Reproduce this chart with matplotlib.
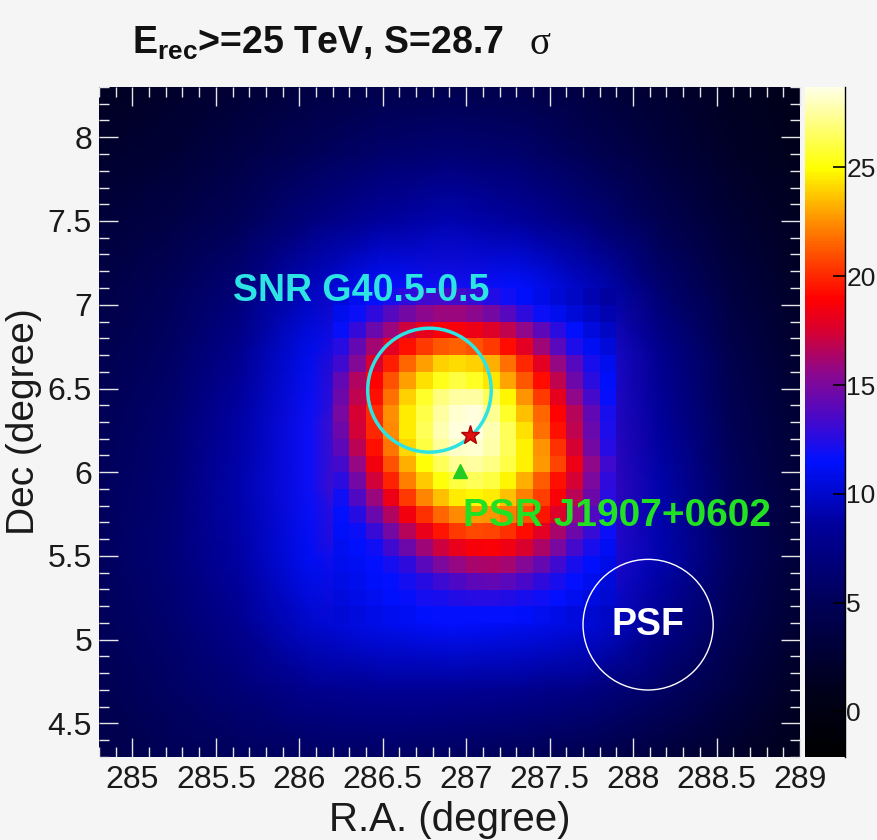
import numpy as np
import matplotlib
matplotlib.use("Agg")
import matplotlib.pyplot as plt
from matplotlib.colors import LinearSegmentedColormap, Normalize
from matplotlib.patches import Circle
from matplotlib.ticker import MultipleLocator, FuncFormatter

plt.rcParams['font.family'] = ['Liberation Sans', 'DejaVu Sans']
plt.rcParams['mathtext.fontset'] = 'custom'
plt.rcParams['mathtext.rm'] = 'Liberation Sans:bold'
plt.rcParams['mathtext.bf'] = 'Liberation Sans:bold'

# map extent (degrees)
ra_min, ra_max = 284.8, 289.0
dec_min, dec_max = 4.3, 8.3
sig_min, sig_max = -2.1, 28.7

# coarse significance map (rows: Dec 8.3 -> 4.3, cols: R.A. 284.8 -> 289.0)
bg_sig = [
    [1.5, 2.0, 2.8, 3.6, 4.2, 4.5, 4.2, 3.4, 2.4, 1.4, 0.8],
    [2.2, 2.8, 3.8, 5.0, 6.0, 6.5, 6.0, 4.7, 3.2, 1.9, 1.0],
    [3.0, 3.8, 5.0, 7.0, 8.5, 9.2, 8.6, 6.8, 4.6, 2.7, 1.4],
    [3.8, 4.9, 6.6, 9.5, 11.5, 12.0, 11.5, 9.5, 6.3, 3.5, 1.8],
    [4.4, 5.6, 8.0, 11.0, 14.0, 17.0, 15.0, 12.5, 8.0, 4.3, 2.2],
    [4.8, 6.1, 8.8, 11.8, 16.0, 24.0, 18.0, 13.0, 8.5, 4.8, 2.6],
    [5.2, 6.4, 9.0, 11.8, 16.0, 24.0, 19.0, 13.5, 9.0, 5.3, 2.9],
    [5.3, 6.6, 8.8, 11.2, 13.0, 15.0, 15.0, 12.8, 9.2, 5.5, 2.9],
    [5.0, 6.2, 8.0, 10.0, 11.0, 11.5, 11.2, 10.5, 8.0, 4.8, 2.4],
    [4.6, 5.5, 6.6, 7.8, 8.2, 8.2, 7.9, 7.2, 5.7, 3.6, 1.6],
    [4.0, 4.8, 5.3, 5.6, 5.7, 5.4, 4.9, 4.3, 3.3, 2.0, 1.0],
]

# 0.1 deg pixels of the bright source (rows: Dec 7.05 -> 5.15, cols: R.A. 286.25 -> 287.85)
core_sig = [
    [10.4, 11.0, 11.5, 12.1, 12.7, 13.2, 13.3, 13.3, 13.0, 12.4, 11.9, 11.3, 10.8, 10.2, 9.7, 9.2, 8.7],
    [11.0, 11.8, 12.7, 13.8, 14.8, 15.5, 15.9, 15.9, 15.5, 14.8, 13.8, 12.7, 11.8, 11.0, 10.4, 9.8, 9.2],
    [11.7, 12.9, 14.4, 15.9, 17.2, 18.1, 18.6, 18.6, 18.3, 17.7, 16.8, 15.6, 14.1, 12.6, 11.4, 10.5, 9.8],
    [12.5, 14.3, 16.1, 17.9, 19.4, 20.5, 21.2, 21.4, 21.1, 20.4, 19.3, 17.9, 16.0, 14.0, 12.3, 11.2, 10.4],
    [13.2, 15.3, 17.6, 19.7, 21.5, 22.9, 23.9, 24.2, 24.0, 23.2, 21.8, 20.0, 17.9, 15.8, 13.8, 12.2, 11.0],
    [14.2, 16.5, 19.0, 21.1, 22.9, 24.3, 25.4, 26.0, 25.5, 24.4, 23.0, 21.2, 19.2, 16.9, 14.6, 12.6, 11.3],
    [14.6, 16.9, 19.4, 21.8, 24.0, 25.6, 26.9, 27.6, 27.5, 26.4, 24.8, 22.6, 20.4, 18.0, 15.6, 13.4, 11.7],
    [14.9, 17.4, 20.1, 22.5, 24.5, 26.1, 27.5, 28.3, 28.5, 27.3, 25.6, 23.6, 21.5, 19.0, 16.6, 14.2, 12.1],
    [14.6, 17.3, 20.0, 22.4, 24.6, 26.4, 27.8, 28.5, 28.7, 27.8, 26.3, 24.3, 21.8, 19.4, 16.9, 14.4, 12.3],
    [14.1, 16.7, 19.4, 21.9, 24.1, 26.0, 27.4, 28.2, 28.3, 27.7, 26.4, 24.7, 22.6, 20.2, 17.4, 14.8, 12.5],
    [13.4, 15.8, 18.5, 21.0, 23.2, 25.0, 26.4, 27.3, 27.6, 27.1, 26.1, 24.7, 22.8, 20.7, 18.3, 15.7, 13.2],
    [12.6, 14.8, 17.3, 19.8, 22.1, 23.8, 25.1, 26.0, 26.3, 26.0, 24.8, 23.2, 21.3, 19.4, 17.4, 15.0, 12.8],
    [11.9, 13.7, 15.9, 18.3, 20.5, 22.3, 23.6, 24.5, 24.8, 24.6, 23.6, 22.2, 20.6, 18.8, 16.7, 14.6, 12.6],
    [11.5, 12.5, 14.4, 16.5, 18.5, 20.2, 21.5, 22.4, 22.8, 22.6, 22.0, 21.0, 19.5, 17.7, 15.7, 13.7, 12.2],
    [11.3, 11.8, 13.0, 14.8, 16.6, 18.2, 19.5, 20.4, 20.8, 20.7, 20.2, 19.3, 17.9, 16.3, 14.6, 13.0, 11.8],
    [11.1, 11.4, 11.9, 13.2, 14.6, 16.0, 17.2, 18.2, 18.7, 18.8, 18.4, 17.6, 16.4, 14.9, 13.4, 12.2, 11.2],
    [10.9, 11.2, 11.5, 12.0, 12.8, 14.0, 15.0, 15.8, 16.3, 16.4, 16.1, 15.3, 14.3, 13.2, 12.2, 11.4, 10.8],
    [10.7, 11.0, 11.3, 11.6, 12.0, 12.5, 13.1, 13.6, 14.1, 14.2, 14.0, 13.5, 12.8, 12.1, 11.5, 10.9, 10.4],
    [10.5, 10.8, 11.1, 11.4, 11.7, 12.0, 12.2, 12.4, 12.5, 12.5, 12.4, 12.2, 11.9, 11.5, 11.1, 10.6, 10.1],
    [10.2, 10.5, 10.8, 11.0, 11.2, 11.4, 11.5, 11.6, 11.6, 11.6, 11.5, 11.3, 11.1, 10.8, 10.5, 10.1, 9.7],
]
core_ra = (286.2, 287.9)
core_dec = (7.1, 5.1)

# sources
snr_ra, snr_dec, snr_r = 286.78, 6.49, 0.37
psr_ra, psr_dec = 286.96, 6.01
peak_ra, peak_dec = 287.02, 6.22
psf_ra, psf_dec, psf_r = 288.09, 5.09, 0.39

# ROOT-like palette
pal_vals = [-2.1, 1.0, 5.0, 8.5, 11.5, 13.5, 15.5, 17.5, 19.0, 20.5, 22.5, 25.0, 28.7]
pal_cols = ['#000000', '#00001c', '#000058', '#00009a', '#0010ff', '#4a08c8',
            '#8a0890', '#d80030', '#ff0000', '#ff3a00', '#ff8c00', '#ffff00', '#ffffe6']
pos = [(v - sig_min) / (sig_max - sig_min) for v in pal_vals]
cmap = LinearSegmentedColormap.from_list('rootpal', list(zip(pos, pal_cols)))
norm = Normalize(vmin=sig_min, vmax=sig_max)

fig = plt.figure(figsize=(8.77, 8.40), dpi=100)
fig.patch.set_facecolor('#f5f5f5')
ax = fig.add_axes([99/877, 83/840, 701/877, 670/840])
cax = fig.add_axes([805/877, 83/840, 40/877, 670/840])

bg = np.array(bg_sig)
ra_nodes = np.linspace(ra_min, ra_max, bg.shape[1])
dec_nodes = np.linspace(dec_max, dec_min, bg.shape[0])
mesh = ax.pcolormesh(ra_nodes, dec_nodes, bg, shading='gouraud', cmap=cmap, norm=norm)

core = np.array(core_sig)
ra_edges = np.linspace(core_ra[0], core_ra[1], core.shape[1] + 1)
dec_edges = np.linspace(core_dec[0], core_dec[1], core.shape[0] + 1)
ax.pcolormesh(ra_edges, dec_edges, core, shading='flat', cmap=cmap, norm=norm,
              edgecolors='none', linewidth=0, antialiased=False)

ax.set_xlim(ra_min, ra_max)
ax.set_ylim(dec_min, dec_max)

# annotations
ax.add_patch(Circle((snr_ra, snr_dec), snr_r, fill=False, ec='#2ee3e3', lw=2.5))
ax.add_patch(Circle((psf_ra, psf_dec), psf_r, fill=False, ec='white', lw=1.0))
ax.plot(peak_ra, peak_dec, marker='*', color='#e01010', ms=14, mec='#b00000')
ax.plot(psr_ra, psr_dec, marker='^', color='#22cc22', ms=10, mec='#22cc22')
ax.text(286.37, 7.08, 'SNR G40.5-0.5', color='#2ee3e3', fontsize=27,
        fontweight='bold', ha='center', va='center')
ax.text(286.98, 5.74, 'PSR J1907+0602', color='#22e022', fontsize=28,
        fontweight='bold', ha='left', va='center')
ax.text(psf_ra, psf_dec, 'PSF', color='white', fontsize=27,
        fontweight='bold', ha='center', va='center')

# axes ticks
ax.xaxis.set_major_locator(MultipleLocator(0.5))
ax.xaxis.set_minor_locator(MultipleLocator(0.1))
ax.yaxis.set_major_locator(MultipleLocator(0.5))
ax.yaxis.set_minor_locator(MultipleLocator(0.1))
fmt = FuncFormatter(lambda v, p: '%g' % v)
ax.xaxis.set_major_formatter(fmt)
ax.yaxis.set_major_formatter(fmt)
ax.tick_params(which='both', direction='in', top=True, right=True, color='#e6e6e6',
               labelsize=23, labelcolor='#1a1a1a', width=1)
ax.tick_params(which='major', length=14)
ax.tick_params(which='minor', length=7)
ax.tick_params(axis='x', pad=6)
ax.tick_params(axis='y', pad=5)
for s in ax.spines.values():
    s.set_visible(False)
ax.set_xlabel('R.A. (degree)', fontsize=29, color='#1a1a1a', labelpad=4)
ax.set_ylabel('Dec (degree)', fontsize=28, color='#1a1a1a', labelpad=4)

# color bar
cb = fig.colorbar(mesh, cax=cax, ticks=[0, 5, 10, 15, 20, 25])
cb.outline.set_visible(False)
cax.plot([1, 1], [0, 1], transform=cax.transAxes, color='black', lw=1, clip_on=False)
cax.tick_params(direction='in', length=9, width=1.2, color='black',
                labelsize=19, labelcolor='#1a1a1a', pad=1)

# title
t = fig.text(132/877, 1 - 54/840, r'E$_{\mathrm{rec}}$>=25 TeV, S=28.7',
             fontsize=27, fontweight='bold', color='#111111', va='baseline')
bb = t.get_window_extent(fig.canvas.get_renderer())
fig.text(bb.x1 / fig.bbox.width + 0.03, 1 - 54/840, '\u03c3', family='Liberation Serif',
         fontsize=28, color='#111111', va='baseline')

fig.savefig('out.png', dpi=100, facecolor=fig.get_facecolor())
